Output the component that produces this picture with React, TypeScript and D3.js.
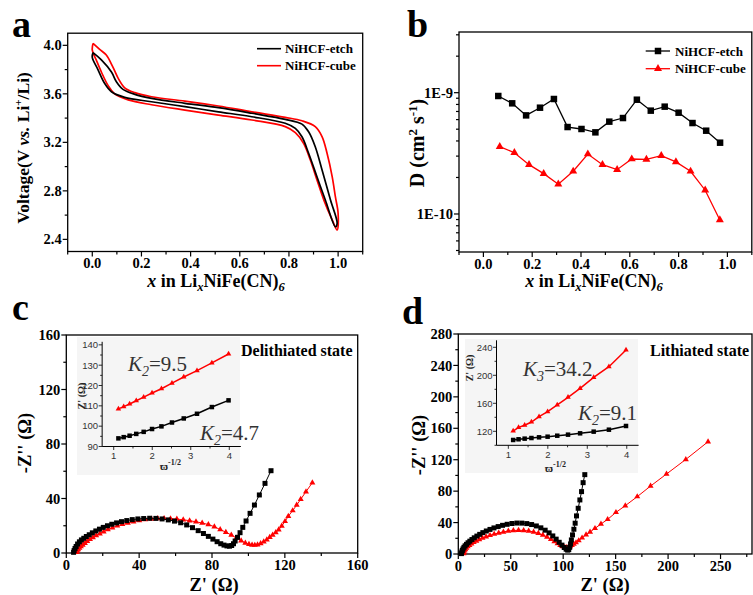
import React from 'react';
import * as d3 from 'd3';

const SERIF = '"Liberation Serif","Times New Roman",Times,serif';
const SANS = '"Liberation Sans",Arial,Helvetica,sans-serif';
const RED = '#ff0000';
const BLK = '#000000';

// ---------------- Panel a: voltage profiles ----------------
const legendNames = ['NiHCF-etch', 'NiHCF-cube'];
const xTicksA = [0, 0.2, 0.4, 0.6, 0.8, 1.0];
const xMinorA = [-0.1, 0.1, 0.3, 0.5, 0.7, 0.9, 1.1];
const vTicksA = [2.4, 2.8, 3.2, 3.6, 4.0];
const vMinorA = [2.6, 3.0, 3.4, 3.8];

const etchUpper: [number, number][] = [[0.003,3.94],[0.037,3.88],[0.078,3.78],[0.098,3.70],[0.125,3.637],[0.173,3.596],[0.241,3.563],[0.377,3.522],[0.513,3.486],[0.649,3.44],[0.785,3.39],[0.853,3.35],[0.88,3.287],[0.907,3.164],[0.935,2.97],[0.969,2.724],[0.996,2.532]];
const etchLower: [number, number][] = [[0,3.90],[0.023,3.80],[0.05,3.687],[0.078,3.617],[0.132,3.571],[0.241,3.535],[0.377,3.494],[0.513,3.452],[0.649,3.411],[0.785,3.357],[0.826,3.315],[0.853,3.246],[0.88,3.11],[0.914,2.916],[0.948,2.724],[0.989,2.504]];
const cubeUpper: [number, number][] = [[0.003,4.016],[0.03,3.967],[0.057,3.92],[0.084,3.82],[0.105,3.73],[0.132,3.65],[0.173,3.61],[0.241,3.576],[0.377,3.54],[0.513,3.50],[0.649,3.452],[0.785,3.406],[0.853,3.378],[0.907,3.33],[0.935,3.246],[0.955,3.11],[0.976,2.916],[0.989,2.75],[1.0,2.614]];
const cubeLower: [number, number][] = [[0,3.96],[0.016,3.88],[0.037,3.78],[0.064,3.67],[0.091,3.60],[0.146,3.55],[0.241,3.51],[0.377,3.466],[0.513,3.425],[0.649,3.384],[0.785,3.33],[0.826,3.28],[0.86,3.19],[0.887,3.054],[0.914,2.89],[0.942,2.724],[0.976,2.56],[0.996,2.477]];

// ---------------- Panel b: diffusion coefficient ----------------
const dEtchX = [0.061,0.118,0.175,0.232,0.289,0.345,0.402,0.459,0.516,0.572,0.629,0.686,0.743,0.800,0.857,0.913,0.970];
const dEtchY = [9.39e-10,8.17e-10,6.50e-10,7.52e-10,8.87e-10,5.21e-10,5.02e-10,4.71e-10,5.77e-10,6.18e-10,8.75e-10,7.11e-10,7.67e-10,6.84e-10,5.62e-10,4.86e-10,3.87e-10];
const dCubeX = [0.067,0.127,0.187,0.247,0.307,0.368,0.428,0.488,0.548,0.608,0.668,0.729,0.789,0.849,0.909,0.969];
const dCubeY = [3.59e-10,3.20e-10,2.55e-10,2.15e-10,1.76e-10,2.25e-10,3.12e-10,2.55e-10,2.32e-10,2.84e-10,2.82e-10,3.03e-10,2.69e-10,2.25e-10,1.57e-10,8.93e-11];
const dMajor = [1e-10, 1e-9];
const dMajorLabels = ['1E-10', '1E-9'];
const dMinor = [5e-11,6e-11,7e-11,8e-11,9e-11,2e-10,3e-10,4e-10,5e-10,6e-10,7e-10,8e-10,9e-10,2e-9,3e-9];

// ---------------- Panel c: EIS delithiated ----------------
const eisDelEtch: [number, number][] = [[4,0.5],[4.3,1.8],[4.8,3.3],[5.4,4.8],[6.2,6.6],[7.2,8.2],[8.3,9.6],[9.6,10.8],[11,12.1],[12.6,13.4],[14.3,14.8],[16.2,16.2],[18.2,17.5],[20.3,18.8],[22.6,20],[25,21.1],[27.6,22.1],[30.3,23],[33.2,23.8],[36.2,24.5],[39.3,25],[42.5,25.3],[45.8,25.5],[49.2,25.4],[52.6,25],[56,24.3],[59.4,23.4],[62.8,22.2],[66.1,20.6],[69.3,18.6],[72.4,16.4],[75.3,14.3],[78,12.2],[80.5,10.2],[82.8,8.3],[84.8,6.8],[86.6,5.8],[88.2,5.2],[89.6,5],[90.8,5.5],[91.8,6.8],[92.7,8.8],[94,11.5],[95.4,14.9],[96.9,18.8],[98.7,23.5],[100.9,29.1],[103.3,35.2],[106,42.6],[109.1,51.1],[112.4,60.4]];
const eisDelCube: [number, number][] = [[5.7,0.5],[6,1.6],[6.5,2.6],[7.2,3.6],[8,4.8],[9,5.9],[10.2,7.2],[11.5,8.6],[13,10],[14.6,11.4],[16.4,12.8],[18.4,14.2],[20.5,15.6],[22.8,17.2],[25.3,18.6],[28,19.9],[30.8,21],[33.8,22],[36.9,23],[40.1,23.8],[43.4,24.5],[46.8,25],[50.2,25.3],[53.7,25.4],[57.2,25.2],[60.7,24.9],[64.2,24.4],[67.7,23.7],[71.2,22.9],[74.6,22],[78,20.9],[81.3,19.3],[84.5,17.2],[87.6,15.3],[90.6,13.2],[93.4,11],[96,9],[98.3,7.4],[100.3,6.4],[102,5.9],[103.5,5.8],[105,6.1],[106.7,7],[108.4,8.3],[110.1,9.8],[111.7,11.5],[113.3,13.2],[115,15],[116.6,17],[118.3,19.8],[120.1,23.2],[121.9,27],[124.3,31.1],[126.5,35.2],[128.7,39.4],[131.6,45],[135.1,51.6]];
const eisTicks = [0, 40, 80, 120, 160];
const eisMinor = [20, 60, 100, 140];

// ---------------- Panel d: EIS lithiated ----------------
const eisLithEtch: [number, number][] = [[3,0.5],[3.3,2.5],[3.8,4.5],[4.5,6.5],[5.4,8.5],[6.5,10.4],[7.8,12.3],[9.3,14.3],[11,16.3],[13,18.4],[15.2,20.6],[17.7,22.8],[20.4,25],[23.4,27.2],[26.7,29.3],[30.2,31.3],[34,33.2],[38,34.9],[42.2,36.5],[46.6,37.8],[51.2,38.8],[55.9,39.4],[60.6,39.3],[65.3,38.7],[69.9,37.5],[74.4,35.7],[78.7,33.3],[82.8,30.3],[86.6,26.9],[90.1,23],[93.3,18.9],[96.2,14.9],[98.8,11.3],[101,8.3],[102.8,6.1],[104.2,5],[105.3,5.5],[106.2,8.5],[107,12.8],[107.8,17.9],[108.9,24.3],[110.2,31.5],[111.4,39.2],[112.7,48.5],[114.3,58.2],[115.9,68.8],[117.5,79.4],[119,90.8],[120.6,101]];
const eisLithCube: [number, number][] = [[5,0.5],[5.3,2.2],[5.9,4],[6.7,5.8],[7.7,7.6],[9,9.4],[10.6,11.2],[12.5,13],[14.7,14.8],[17.2,16.6],[20,18.4],[23.1,20.2],[26.5,22],[30.2,23.7],[34.2,25.3],[38.5,26.8],[43,28.1],[47.7,29.2],[52.5,29.9],[57.4,30.2],[62.3,30],[67.1,29.3],[71.8,28.1],[76.3,26.4],[80.6,24.2],[84.6,21.6],[88.3,18.8],[91.6,16],[94.6,13.4],[97.2,11.2],[99.5,9.6],[101.5,8.7],[103.3,8.4],[105,8.7],[106.6,9.6],[108.3,11],[110.1,12.6],[112.2,14.5],[114.8,17],[118,20.5],[121.8,24.6],[125.6,28],[130.3,32.6],[136,38.2],[142.4,44.1],[150.3,53],[159.2,61.5],[170.6,73],[183.3,86.5],[198.5,101.8],[216.9,120.4],[238.1,142.9]];
const eisDXTicks = [0, 50, 100, 150, 200, 250];
const eisDXMinor = [25, 75, 125, 175, 225, 275];
const eisDYTicks = [0, 40, 80, 120, 160, 200, 240, 280];
const eisDYMinor = [20, 60, 100, 140, 180, 220, 260];

// ---------------- Insets (Z' vs w^-1/2) ----------------
const omegaInv = [1.122,1.259,1.413,1.585,1.778,1.995,2.239,2.512,2.818,3.162,3.548,3.981];
const insetDelEtch = [94.0,94.6,95.3,96.2,97.2,98.6,99.9,101.8,103.8,106.1,109.4,112.7];
const insetDelCube = [108.5,109.6,110.9,112.5,114.3,116.3,118.4,121.2,124.2,127.3,131.1,135.5];
const insetLithEtch = [107.6,108.6,109.5,110.4,111.4,112.3,113.7,115.2,117.1,119.5,122.3,127.6];
const insetLithCube = [120.4,125.7,128.6,133.3,140.9,148,157.6,168.6,181.4,197.1,212.3,236.1];
const insetXTicks = [1, 2, 3, 4];
const insetXMinor = [1.5, 2.5, 3.5];
const insetCYTicks = [90, 100, 110, 120, 130, 140];
const insetCYMinor = [95, 105, 115, 125, 135];
const insetDYTicks = [120, 160, 200, 240];
const insetDYMinor = [100, 140, 180, 220];

type Sc = (v: number) => number;

const sqPath = (s: number) => d3.symbol(d3.symbolSquare, s * s)() as string;
const triPath = (s: number) => d3.symbol(d3.symbolTriangle, (s * s * Math.sqrt(3)) / 4)() as string;

function XAxis(p: { sc: Sc; y: number; majors: number[]; minors: number[]; fmt: (v: number) => string; fs: number; font: string; weight: string; fill?: string; dy: number; maj?: number; min?: number; sw?: number }) {
  const maj = p.maj ?? 5, mn = p.min ?? 3, sw = p.sw ?? 1.2;
  return (
    <g>
      {p.majors.map((v) => <line key={'M' + v} x1={p.sc(v)} x2={p.sc(v)} y1={p.y} y2={p.y + maj} stroke="#000" strokeWidth={sw} />)}
      {p.minors.map((v) => <line key={'m' + v} x1={p.sc(v)} x2={p.sc(v)} y1={p.y} y2={p.y + mn} stroke="#000" strokeWidth={sw} />)}
      {p.majors.map((v) => (
        <text key={'t' + v} x={p.sc(v)} y={p.y + p.dy} textAnchor="middle" fontSize={p.fs} fontFamily={p.font} fontWeight={p.weight} fill={p.fill ?? '#000'}>{p.fmt(v)}</text>
      ))}
    </g>
  );
}

function YAxis(p: { sc: Sc; x: number; majors: number[]; minors: number[]; fmt: (v: number, i: number) => string; fs: number; font: string; weight: string; fill?: string; dx: number; maj?: number; min?: number; sw?: number }) {
  const maj = p.maj ?? 5, mn = p.min ?? 3, sw = p.sw ?? 1.2;
  return (
    <g>
      {p.majors.map((v) => <line key={'M' + v} x1={p.x - maj} x2={p.x} y1={p.sc(v)} y2={p.sc(v)} stroke="#000" strokeWidth={sw} />)}
      {p.minors.map((v) => <line key={'m' + v} x1={p.x - mn} x2={p.x} y1={p.sc(v)} y2={p.sc(v)} stroke="#000" strokeWidth={sw} />)}
      {p.majors.map((v, i) => (
        <text key={'t' + v} x={p.x - p.dx} y={p.sc(v)} dy="0.35em" textAnchor="end" fontSize={p.fs} fontFamily={p.font} fontWeight={p.weight} fill={p.fill ?? '#000'}>{p.fmt(v, i)}</text>
      ))}
    </g>
  );
}

function Series(p: { pts: [number, number][]; xs: Sc; ys: Sc; color: string; marker: 'sq' | 'tri'; size: number; sw?: number }) {
  const line = d3.line<[number, number]>().x((d) => p.xs(d[0])).y((d) => p.ys(d[1]));
  const path = p.marker === 'sq' ? sqPath(p.size) : triPath(p.size);
  return (
    <g>
      <path d={line(p.pts) as string} fill="none" stroke={p.color} strokeWidth={p.sw ?? 1} />
      {p.pts.map((d, i) => (
        <path key={i} d={path} transform={`translate(${p.xs(d[0])},${p.ys(d[1])})`} fill={p.color} />
      ))}
    </g>
  );
}

export default function App() {
  const tickFS = 14.5;
  // Panel a
  const xA = d3.scaleLinear().domain([-0.1, 1.1]).range([67.7, 362.7]);
  const yA = d3.scaleLinear().domain([2.3, 4.1]).range([251.5, 33.2]);
  const curveLine = d3.line<[number, number]>().x((d) => xA(d[0])).y((d) => yA(d[1])).curve(d3.curveCatmullRom.alpha(0.5));
  const loop = (up: [number, number][], low: [number, number][]) => {
    const pts: [number, number][] = [...up, ...low.slice().reverse(), up[0]];
    return curveLine(pts) as string;
  };

  // Panel b
  const xB = d3.scaleLinear().domain([-0.1, 1.1]).range([459, 751.8]);
  const yB = d3.scaleLog().domain([4.86e-11, 3.164e-9]).range([252, 32]);
  const etchB: [number, number][] = dEtchX.map((x, i) => [x, dEtchY[i]]);
  const cubeB: [number, number][] = dCubeX.map((x, i) => [x, dCubeY[i]]);

  // Panel c
  const xC = d3.scaleLinear().domain([0, 160]).range([66.3, 357.7]);
  const yC = d3.scaleLinear().domain([0, 160]).range([553, 335]);
  const xCi = d3.scaleLinear().domain([0.7, 4.3]).range([102.15, 240.85]);
  const yCi = d3.scaleLinear().domain([90, 141.5]).range([446.5, 341.8]);

  // Panel d
  const xD = d3.scaleLinear().domain([0, 280]).range([458.3, 752]);
  const yD = d3.scaleLinear().domain([0, 280]).range([554, 334]);
  const xDi = d3.scaleLinear().domain([0.7, 4.3]).range([496.5, 638.6]);
  const yDi = d3.scaleLinear().domain([100, 250]).range([445.3, 340.3]);

  const f1 = (v: number) => v.toFixed(1);
  const f0 = (v: number) => String(v);
  const zip = (xs: number[], ys: number[]) => xs.map((x, i) => [x, ys[i]] as [number, number]);
  const frameW = 1.3;

  const xTitle = (cx: number) => (
    <text x={cx} y={287} textAnchor="middle" fontSize={18} fontWeight="bold">
      <tspan fontStyle="italic">x</tspan> in Li<tspan fontSize={12.5} dy={4} fontStyle="italic">x</tspan><tspan dy={-4}>NiFe(CN)</tspan><tspan fontSize={12.5} dy={4} fontStyle="italic">6</tspan>
    </text>
  );

  return (
    <svg width={753} height={595} style={{ position: 'absolute', left: 0, top: 0 }} fontFamily={SERIF}>
      <rect x={0} y={0} width={753} height={595} fill="#fff" />

      {/* ================= Panel a ================= */}
      <text x={12} y={37} fontSize={38} fontWeight="bold">a</text>
      <rect x={xA(-0.1)} y={yA(4.1)} width={xA(1.1) - xA(-0.1)} height={yA(2.3) - yA(4.1)} fill="none" stroke="#000" strokeWidth={frameW} />
      <XAxis sc={xA} y={yA(2.3)} majors={xTicksA} minors={xMinorA} fmt={f1} fs={tickFS} font={SERIF} weight="bold" dy={16.5} />
      <YAxis sc={yA} x={xA(-0.1)} majors={vTicksA} minors={vMinorA} fmt={f1} fs={tickFS} font={SERIF} weight="bold" dx={6} />
      <path d={loop(cubeUpper, cubeLower)} fill="none" stroke={RED} strokeWidth={1.7} />
      <path d={loop(etchUpper, etchLower)} fill="none" stroke={BLK} strokeWidth={1.7} />
      <line x1={257} x2={281} y1={48.7} y2={48.7} stroke={BLK} strokeWidth={1.6} />
      <line x1={257} x2={281} y1={65.7} y2={65.7} stroke={RED} strokeWidth={1.6} />
      <text x={285} y={53.3} fontSize={13} fontWeight="bold">{legendNames[0]}</text>
      <text x={285} y={70.3} fontSize={13} fontWeight="bold">{legendNames[1]}</text>
      <text transform="translate(29,148) rotate(-90)" textAnchor="middle" fontSize={17.5} fontWeight="bold">
        Voltage(V <tspan fontStyle="italic">vs.</tspan> Li<tspan fontSize={11} dy={-7}>+</tspan><tspan dy={7}>/Li)</tspan>
      </text>
      {xTitle(216)}

      {/* ================= Panel b ================= */}
      <text x={407} y={37} fontSize={38} fontWeight="bold">b</text>
      <rect x={xB(-0.1)} y={32} width={xB(1.1) - xB(-0.1)} height={220} fill="none" stroke="#000" strokeWidth={frameW} />
      <XAxis sc={xB} y={252} majors={xTicksA} minors={xMinorA} fmt={f1} fs={tickFS} font={SERIF} weight="bold" dy={16.5} />
      <YAxis sc={yB} x={xB(-0.1)} majors={dMajor} minors={dMinor} fmt={(v, i) => dMajorLabels[i]} fs={tickFS} font={SERIF} weight="bold" dx={6} />
      <Series pts={etchB} xs={xB} ys={yB} color={BLK} marker="sq" size={6.5} sw={1.3} />
      <Series pts={cubeB} xs={xB} ys={yB} color={RED} marker="tri" size={8} sw={1.3} />
      <line x1={645.7} x2={670} y1={51} y2={51} stroke={BLK} strokeWidth={1.3} />
      <path d={sqPath(6.5)} transform="translate(658,51)" fill={BLK} />
      <line x1={645.7} x2={670} y1={68.7} y2={68.7} stroke={RED} strokeWidth={1.3} />
      <path d={triPath(8)} transform="translate(658,68.7)" fill={RED} />
      <text x={675} y={55.5} fontSize={13} fontWeight="bold">{legendNames[0]}</text>
      <text x={675} y={73.2} fontSize={13} fontWeight="bold">{legendNames[1]}</text>
      <text transform="translate(424,143) rotate(-90)" textAnchor="middle" fontSize={20} fontWeight="bold">
        D (cm<tspan fontSize={13} dy={-7}>2</tspan><tspan dy={7}> s</tspan><tspan fontSize={13} dy={-7}>-1</tspan><tspan dy={7}>)</tspan>
      </text>
      {xTitle(594)}

      {/* ================= Panel c ================= */}
      <text x={12} y={320} fontSize={38} fontWeight="bold">c</text>
      <rect x={xC(0)} y={yC(160)} width={xC(160) - xC(0)} height={yC(0) - yC(160)} fill="none" stroke="#000" strokeWidth={frameW} />
      <XAxis sc={xC} y={yC(0)} majors={eisTicks} minors={eisMinor} fmt={f0} fs={tickFS} font={SERIF} weight="bold" dy={17} />
      <YAxis sc={yC} x={xC(0)} majors={eisTicks} minors={eisMinor} fmt={f0} fs={tickFS} font={SERIF} weight="bold" dx={6} />
      <rect x={77} y={337} width={163} height={138} fill="#f5f5f5" />
      <Series pts={eisDelCube} xs={xC} ys={yC} color={RED} marker="tri" size={6} sw={1} />
      <Series pts={eisDelEtch} xs={xC} ys={yC} color={BLK} marker="sq" size={5} sw={1} />
      <text transform="translate(31,443) rotate(-90)" textAnchor="middle" fontSize={18.5} fontWeight="bold">-Z'' (Ω)</text>
      <text x={214} y={591} textAnchor="middle" fontSize={18.5} fontWeight="bold">Z' (Ω)</text>
      <text x={241} y={356} fontSize={16} fontWeight="bold">Delithiated state</text>
      {/* inset c */}
      <line x1={xCi(0.7)} x2={xCi(4.3)} y1={yCi(90)} y2={yCi(90)} stroke="#000" strokeWidth={1} />
      <line x1={xCi(0.7)} x2={xCi(0.7)} y1={yCi(90)} y2={yCi(141.5)} stroke="#000" strokeWidth={1} />
      <XAxis sc={xCi} y={yCi(90)} majors={insetXTicks} minors={insetXMinor} fmt={f0} fs={9.5} font={SANS} weight="normal" fill="#333" dy={12.5} maj={3.5} min={2} sw={0.8} />
      <YAxis sc={yCi} x={xCi(0.7)} majors={insetCYTicks} minors={insetCYMinor} fmt={f0} fs={9.5} font={SANS} weight="normal" fill="#333" dx={4} maj={3.5} min={2} sw={0.8} />
      <Series pts={zip(omegaInv, insetDelCube)} xs={xCi} ys={yCi} color={RED} marker="tri" size={5.5} sw={1.5} />
      <Series pts={zip(omegaInv, insetDelEtch)} xs={xCi} ys={yCi} color={BLK} marker="sq" size={4.5} sw={1.5} />
      <text transform="translate(85,396) rotate(-90)" textAnchor="middle" fontSize={10} fontWeight="bold" fill="#222">Z' (Ω)</text>
      <text x={160} y={470} fontSize={11} fontWeight="bold" fill="#222">ϖ<tspan fontSize={8} dy={-5}>-1/2</tspan></text>
      <text x={128} y={371} fontSize={21} fill="#333"><tspan fontStyle="italic">K</tspan><tspan fontStyle="italic" fontSize={14} dy={5}>2</tspan><tspan dy={-5}>=9.5</tspan></text>
      <text x={200} y={440} fontSize={21} fill="#333"><tspan fontStyle="italic">K</tspan><tspan fontStyle="italic" fontSize={14} dy={5}>2</tspan><tspan dy={-5}>=4.7</tspan></text>

      {/* ================= Panel d ================= */}
      <text x={402} y={324} fontSize={38} fontWeight="bold">d</text>
      <rect x={xD(0)} y={yD(280)} width={xD(280) - xD(0)} height={yD(0) - yD(280)} fill="none" stroke="#000" strokeWidth={frameW} />
      <XAxis sc={xD} y={yD(0)} majors={eisDXTicks} minors={eisDXMinor} fmt={f0} fs={tickFS} font={SERIF} weight="bold" dy={17} />
      <YAxis sc={yD} x={xD(0)} majors={eisDYTicks} minors={eisDYMinor} fmt={f0} fs={tickFS} font={SERIF} weight="bold" dx={6} />
      <rect x={465} y={339} width={173} height={134} fill="#f5f5f5" />
      <Series pts={eisLithCube} xs={xD} ys={yD} color={RED} marker="tri" size={6} sw={1} />
      <Series pts={eisLithEtch} xs={xD} ys={yD} color={BLK} marker="sq" size={5} sw={1} />
      <text transform="translate(425,445) rotate(-90)" textAnchor="middle" fontSize={18.5} fontWeight="bold">-Z'' (Ω)</text>
      <text x={605} y={591} textAnchor="middle" fontSize={18.5} fontWeight="bold">Z' (Ω)</text>
      <text x={650} y={356} fontSize={16} fontWeight="bold">Lithiated state</text>
      {/* inset d */}
      <line x1={xDi(0.7)} x2={xDi(4.3)} y1={yDi(100)} y2={yDi(100)} stroke="#000" strokeWidth={1} />
      <line x1={xDi(0.7)} x2={xDi(0.7)} y1={yDi(100)} y2={yDi(250)} stroke="#000" strokeWidth={1} />
      <XAxis sc={xDi} y={yDi(100)} majors={insetXTicks} minors={insetXMinor} fmt={f0} fs={9.5} font={SANS} weight="normal" fill="#333" dy={12.5} maj={3.5} min={2} sw={0.8} />
      <YAxis sc={yDi} x={xDi(0.7)} majors={insetDYTicks} minors={insetDYMinor} fmt={f0} fs={9.5} font={SANS} weight="normal" fill="#333" dx={4} maj={3.5} min={2} sw={0.8} />
      <Series pts={zip(omegaInv, insetLithCube)} xs={xDi} ys={yDi} color={RED} marker="tri" size={5.5} sw={1.5} />
      <Series pts={zip(omegaInv, insetLithEtch)} xs={xDi} ys={yDi} color={BLK} marker="sq" size={4.5} sw={1.5} />
      <text transform="translate(473,368) rotate(-90)" textAnchor="middle" fontSize={10} fontWeight="bold" fill="#222">Z' (Ω)</text>
      <text x={545} y={472} fontSize={11} fontWeight="bold" fill="#222">ϖ<tspan fontSize={8} dy={-5}>-1/2</tspan></text>
      <text x={523} y={376} fontSize={21} fill="#333"><tspan fontStyle="italic">K</tspan><tspan fontStyle="italic" fontSize={14} dy={5}>3</tspan><tspan dy={-5}>=34.2</tspan></text>
      <text x={578} y={420} fontSize={21} fill="#333"><tspan fontStyle="italic">K</tspan><tspan fontStyle="italic" fontSize={14} dy={5}>2</tspan><tspan dy={-5}>=9.1</tspan></text>
    </svg>
  );
}
